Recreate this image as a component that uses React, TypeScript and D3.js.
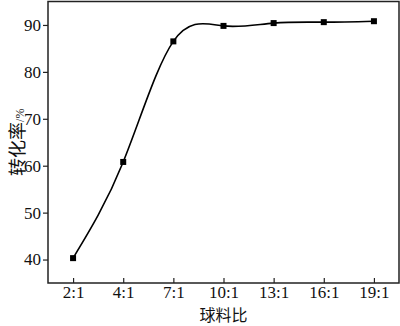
import React, { useEffect, useRef } from 'react';
import * as d3 from 'd3';

const ratios = ['2:1', '4:1', '7:1', '10:1', '13:1', '16:1', '19:1'];
const conversion = [40.3, 60.8, 86.5, 89.8, 90.4, 90.6, 90.8];
const yTicks = [40, 50, 60, 70, 80, 90];

const App = () => {
    const ref = useRef<SVGSVGElement>(null);

    useEffect(() => {
        const width = 400, height = 326;
        const left = 48, right = 399, top = 1.5, bottom = 283;
        const svg = d3.select(ref.current);
        svg.selectAll('*').remove();

        const x = d3.scalePoint<string>().domain(ratios).range([left, right]).padding(0.5);
        const y = d3.scaleLinear().domain([35, 95]).range([bottom, top]);

        // frame
        svg.append('rect')
            .attr('x', left).attr('y', top)
            .attr('width', right - left).attr('height', bottom - top)
            .attr('fill', 'none').attr('stroke', '#222').attr('stroke-width', 1.5);

        // y axis, ticks outside
        const yAxis = svg.append('g').attr('transform', `translate(${left},0)`)
            .call(d3.axisLeft(y).tickValues(yTicks).tickSize(5).tickPadding(2));
        yAxis.select('.domain').remove();

        // x axis, ticks inside
        const xAxis = svg.append('g').attr('transform', `translate(0,${bottom})`)
            .call(d3.axisBottom(x).tickSize(-5).tickPadding(3));
        xAxis.select('.domain').remove();

        svg.selectAll('.tick line').attr('stroke', '#222').attr('stroke-width', 1.2);
        svg.selectAll('.tick text')
            .attr('font-family', '"Liberation Serif", "DejaVu Serif", serif')
            .attr('font-size', 17).attr('fill', '#111');

        const line = d3.line<number>()
            .x((_, i) => x(ratios[i]) as number)
            .y(d => y(d))
            .curve(d3.curveNatural);

        svg.append('path').datum(conversion)
            .attr('d', line)
            .attr('fill', 'none').attr('stroke', '#000').attr('stroke-width', 1.6);

        svg.append('g').selectAll('rect').data(conversion).join('rect')
            .attr('x', (_, i) => (x(ratios[i]) as number) - 3)
            .attr('y', d => y(d) - 3)
            .attr('width', 6).attr('height', 6)
            .attr('fill', '#000');

        // axis titles
        svg.append('text')
            .attr('x', (left + right) / 2).attr('y', 321)
            .attr('text-anchor', 'middle')
            .attr('font-family', '"Noto Sans CJK SC", sans-serif')
            .attr('font-size', 16).attr('fill', '#111')
            .text('球料比');

        const yt = svg.append('text')
            .attr('transform', `translate(24,${(top + bottom) / 2}) rotate(-90)`)
            .attr('text-anchor', 'middle')
            .attr('font-family', '"Noto Sans CJK SC", sans-serif')
            .attr('fill', '#111');
        yt.append('tspan').attr('font-size', 18).text('转化率');
        yt.append('tspan').attr('font-size', 12)
            .attr('font-family', '"Liberation Serif", serif').text('/%');

        svg.attr('width', width).attr('height', height);
    }, []);

    return (
        <div style={{ position: 'absolute', left: 0, top: 0, background: '#fff' }}>
            <svg ref={ref} width={400} height={326}></svg>
        </div>
    );
};

export default App;
